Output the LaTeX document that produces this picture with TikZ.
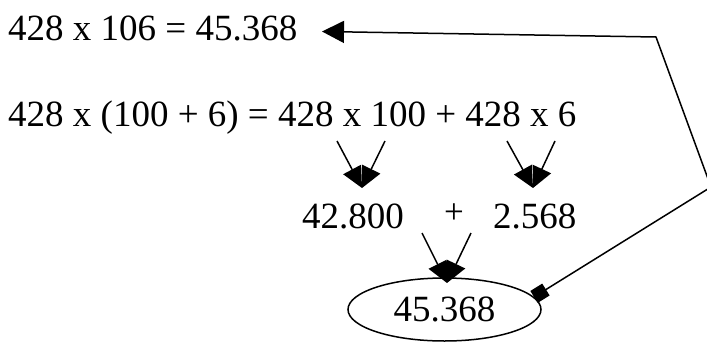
\documentclass[tikz,border=0pt]{standalone}
\usepackage{fontspec}
\setmainfont{Liberation Serif}
\usetikzlibrary{arrows.meta,shapes.geometric}
\begin{document}
\begin{tikzpicture}[x=1pt,y=-1pt,
  every node/.style={inner sep=0pt,font=\fontsize{37}{44}\selectfont},
  conn/.style={line width=1.5pt},
  tri/.style={conn,-{Triangle[length=21pt,width=20pt]}}]
\useasboundingbox (0,0) rectangle (707,343);
\node[anchor=base west] (l1) at (8,40) {428 x 106 = 45.368};
\node[anchor=base west] (l2) at (8,126) {428 x (100 + 6) = 428 x 100 + 428 x 6};
\node[anchor=base west] (p1) at (302,228) {42.800};
\node[anchor=base,font=\fontsize{35}{40}\selectfont] (plus) at (454,223) {+};
\node[anchor=base west] (p2) at (493,228) {2.568};
\node[ellipse,draw,line width=1.5pt,minimum width=193pt,minimum height=63pt] (res) at (444.5,309.5) {45.368};
% arrow coordinates
\coordinate (a1) at (337,141);
\coordinate (b1) at (385,141);
\coordinate (t1) at (362,188);
\coordinate (a2) at (507,141);
\coordinate (b2) at (555,141);
\coordinate (t2) at (533,188);
\coordinate (a3) at (422,233);
\coordinate (b3) at (471,233);
\coordinate (t3) at (447,283);
\coordinate (c1) at (711,187);
\coordinate (c2) at (656,37);
\coordinate (tl) at (322,31.5);
\draw[tri] (a1) -- (t1);
\draw[tri] (b1) -- (t1);
\draw[tri] (a2) -- (t2);
\draw[tri] (b2) -- (t2);
\draw[tri] (a3) -- (t3);
\draw[tri] (b3) -- (t3);
\draw[conn,{Square[length=14pt,width=14pt]}-{Triangle[length=22pt,width=22pt]}] (res.8) -- (c1) -- (c2) -- (tl);
\end{tikzpicture}
\end{document}
